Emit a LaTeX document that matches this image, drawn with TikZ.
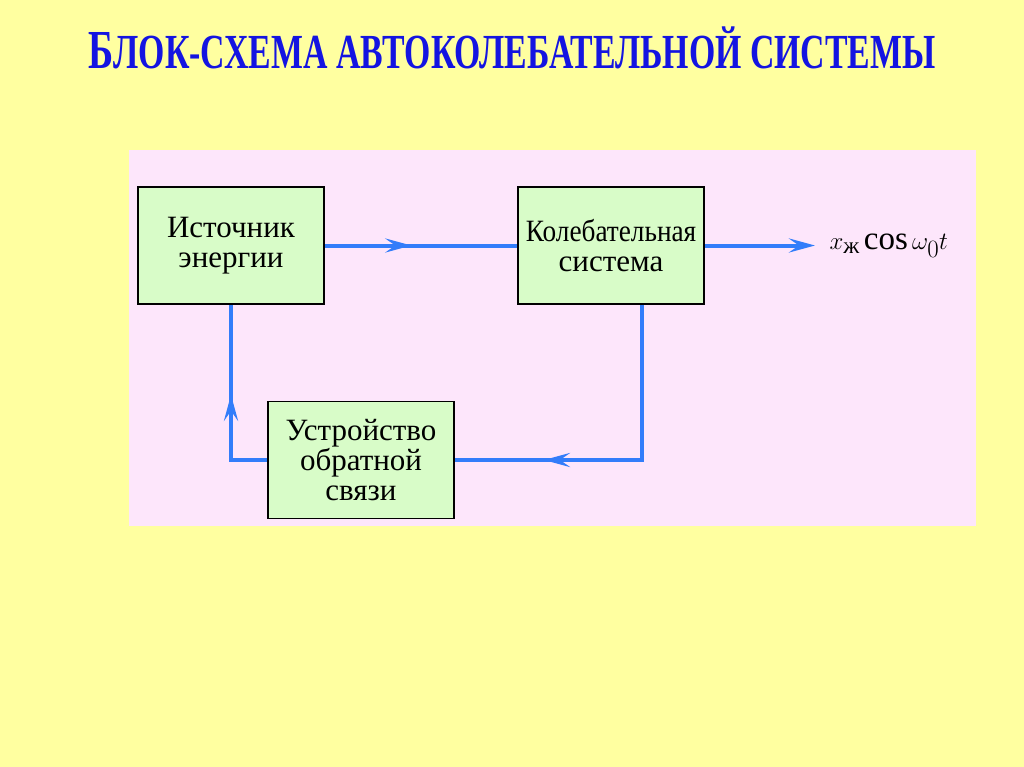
\documentclass[tikz,border=0pt]{standalone}
\usepackage{amsmath}
\usepackage{fontspec}
\setmainfont{Liberation Serif}
\usepackage{graphicx}
\usetikzlibrary{arrows.meta,decorations.markings}
\definecolor{slidebg}{RGB}{255,255,160}
\definecolor{panelpink}{RGB}{253,230,251}
\definecolor{boxgreen}{RGB}{216,252,200}
\definecolor{flowblue}{RGB}{50,125,250}
\definecolor{titleblue}{RGB}{20,20,225}

\begin{document}
\begin{tikzpicture}[x=1pt,y=-1pt,
    block/.style={draw,line width=1.8pt,fill=boxgreen,minimum width=186pt,minimum height=117pt,
      inner sep=0pt,align=center,font=\fontsize{31}{30}\selectfont},
    flow/.style={draw=flowblue,line width=4pt},
    midarrow/.style={postaction={decorate},decoration={markings,
      mark=at position #1 with {\arrow{Stealth[length=26pt,width=14pt,inset=10pt]}}}},
    >={Stealth[length=26pt,width=14pt,inset=10pt]}]
  \fill[slidebg] (0,0) rectangle (1024,767);
  \fill[panelpink] (129,150) rectangle (976,526);
  \node[text=titleblue,font=\bfseries] (title) at (512,48)
    {\scalebox{0.69}[1]{\fontsize{55}{55}\selectfont Б\fontsize{49}{49}\selectfont ЛОК-СХЕМА АВТОКОЛЕБАТЕЛЬНОЙ СИСТЕМЫ}};
  \node[block] (src) at (231,245.5) {Источник\\энергии};
  \node[block] (osc) at (611,245.5) {\scalebox{0.88}[1]{Колебательная}\\система};
  \node[block] (fb) at (361,460) {Устройство\\обратной\\связи};
  \coordinate (tip) at (815,245.5);
  \node[anchor=west,font=\fontsize{33}{33}\selectfont] (out) at (826,245.5) {$x_{\text{ж}}\,\mathrm{cos}\,\omega_0 t$};
  % connections
  \draw[flow,midarrow=0.45] (src) -- (osc);
  \draw[flow,->] (osc) -- (tip);
  \draw[flow,midarrow=0.74] ([xshift=31pt]osc.south) |- (fb);
  \draw[flow,midarrow=0.53] (fb) -| (src);
\end{tikzpicture}
\end{document}
